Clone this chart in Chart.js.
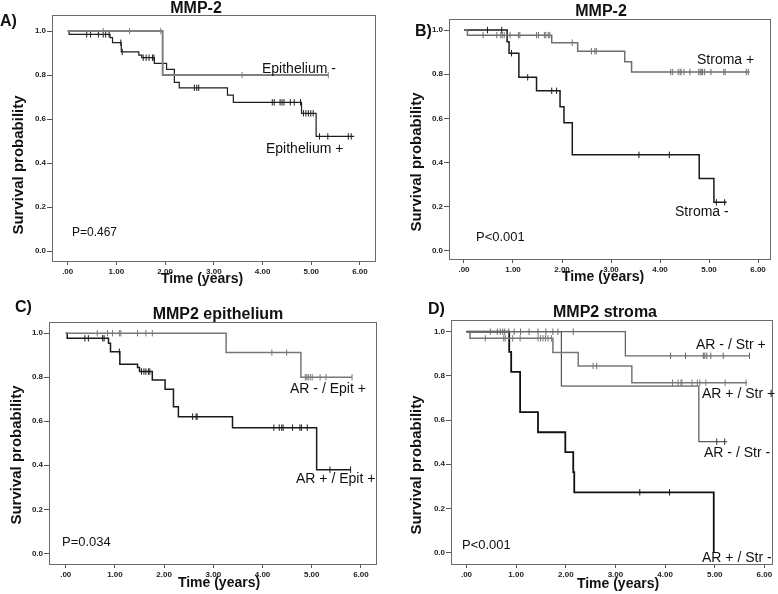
<!DOCTYPE html>
<html><head><meta charset="utf-8">
<script src="https://cdn.jsdelivr.net/npm/chart.js@4.4.0/dist/chart.umd.min.js"></script>
<style>
html,body{margin:0;padding:0;background:#fff;}
#wrap{position:relative;width:778px;height:594px;overflow:hidden;background:#fff;}
canvas{position:absolute;}
</style></head><body>
<div id="wrap">
<canvas id="cA" width="390" height="290" style="left:0px;top:0px;width:390px;height:290px"></canvas>
<canvas id="cB" width="388" height="290" style="left:390px;top:0px;width:388px;height:290px"></canvas>
<canvas id="cC" width="390" height="304" style="left:0px;top:290px;width:390px;height:304px"></canvas>
<canvas id="cD" width="388" height="304" style="left:390px;top:290px;width:388px;height:304px"></canvas>
</div>
<script>
// ---------- tick labels ----------
const xTickValues = [0, 1, 2, 3, 4, 5, 6];
const xTickLabels = ['.00', '1.00', '2.00', '3.00', '4.00', '5.00', '6.00'];
const yTickValues = [0, 0.2, 0.4, 0.6, 0.8, 1.0];
const yTickLabels = ['0.0', '0.2', '0.4', '0.6', '0.8', '1.0'];

// ---------- Panel A: MMP-2 epithelium ----------
const epiNegT = [0, 1.95, 5.35];
const epiNegS = [1, 0.80, 0.80];
const epiNegCens = [0.73, 1.27, 1.91, 3.58, 5.35];
const epiPosT = [0, 0.03, 0.87, 0.92, 1.10, 1.46, 1.52, 1.78, 2.03, 2.19, 2.29, 3.28, 3.40, 4.80, 5.10, 5.88];
const epiPosS = [1, 0.985, 0.970, 0.947, 0.905, 0.891, 0.879, 0.853, 0.826, 0.767, 0.742, 0.709, 0.676, 0.626, 0.521, 0.521];
const epiPosCens = [0.39, 0.47, 0.63, 0.73, 0.78, 0.85, 1.09, 1.12, 1.55, 1.61, 1.67, 1.74, 1.77, 2.60, 2.65, 2.69,
  4.20, 4.24, 4.36, 4.40, 4.44, 4.57, 4.65, 4.78, 4.84, 4.89, 4.94, 4.99, 5.04, 5.17, 5.34, 5.76, 5.82];

// ---------- Panel B: MMP-2 stroma ----------
const stromaPosT = [0, 0.07, 1.79, 2.32, 3.28, 3.42, 5.83];
const stromaPosS = [1, 0.977, 0.943, 0.904, 0.856, 0.810, 0.810];
const stromaPosCens = [0.39, 0.67, 0.75, 0.78, 0.82, 0.94, 1.11, 1.14, 1.48, 1.52, 1.64, 1.67, 1.72, 1.75, 2.21,
  2.60, 2.67, 2.70, 4.22, 4.26, 4.37, 4.41, 4.43, 4.49, 4.61, 4.79, 4.82, 4.85, 4.87, 4.91, 5.04, 5.30, 5.33, 5.76, 5.80];
const stromaNegT = [0, 0.88, 0.92, 1.12, 1.48, 1.96, 2.04, 2.21, 4.80, 5.10, 5.36];
const stromaNegS = [1, 0.947, 0.895, 0.786, 0.725, 0.653, 0.580, 0.435, 0.328, 0.220, 0.220];
const stromaNegCens = [0.48, 0.77, 0.97, 1.30, 1.79, 1.89, 3.57, 4.19, 5.15, 5.32];

// ---------- Panel C: MMP2 epithelium by AR ----------
const arNegEpiT = [0, 3.26, 4.78, 5.82];
const arNegEpiS = [1, 0.912, 0.800, 0.800];
const arNegEpiCens = [0.64, 0.85, 0.95, 1.09, 1.12, 1.46, 1.63, 1.76, 4.19, 4.49, 4.87, 4.90, 4.93, 4.97, 5.01, 5.17, 5.29, 5.82];
const arPosEpiT = [0, 0.03, 0.87, 0.91, 1.10, 1.46, 1.50, 1.76, 2.02, 2.19, 2.29, 3.39, 5.10, 5.79];
const arPosEpiS = [1, 0.977, 0.954, 0.916, 0.859, 0.844, 0.826, 0.788, 0.745, 0.666, 0.621, 0.571, 0.380, 0.380];
const arPosEpiCens = [0.39, 0.46, 0.75, 0.78, 1.09, 1.54, 1.59, 1.63, 1.68, 1.71, 2.58, 2.65, 2.67,
  4.23, 4.34, 4.39, 4.42, 4.61, 4.76, 4.79, 4.91, 5.37, 5.79];

// ---------- Panel D: MMP2 stroma by AR ----------
const arNegStrPosT = [0, 3.20, 5.71];
const arNegStrPosS = [1, 0.891, 0.891];
const arNegStrPosCens = [0.48, 0.62, 0.68, 0.73, 0.77, 0.85, 0.96, 1.09, 1.26, 1.44, 1.60, 1.74, 1.84, 2.15,
  4.11, 4.41, 4.77, 4.80, 4.84, 4.92, 5.17, 5.70];
const arPosStrPosT = [0, 0.07, 1.74, 2.25, 3.33, 5.65];
const arPosStrPosS = [1, 0.970, 0.906, 0.845, 0.769, 0.769];
const arPosStrPosCens = [0.38, 0.75, 0.78, 0.93, 1.08, 1.44, 1.49, 1.54, 1.59, 1.64, 1.71, 2.55, 2.62,
  4.15, 4.26, 4.32, 4.34, 4.54, 4.65, 4.70, 4.82, 5.21, 5.63];
const arNegStrNegT = [0, 1.91, 4.68, 5.25];
const arNegStrNegS = [1, 0.754, 0.502, 0.502];
const arNegStrNegCens = [5.04, 5.20];
const arPosStrNegT = [0, 0.86, 0.90, 1.08, 1.44, 1.99, 2.15, 2.17, 4.98];
const arPosStrNegS = [1, 0.909, 0.818, 0.636, 0.545, 0.455, 0.364, 0.273, 0];
const arPosStrNegCens = [3.49, 4.09];

// ---------- helpers ----------
function stepPoints(T, S) { return T.map((t, i) => ({ x: t, y: S[i] })); }
function survAt(T, S, t) { let s = S[0]; for (let i = 0; i < T.length; i++) { if (T[i] <= t) s = S[i]; } return s; }
function censorPoints(T, S, C) { return C.map(t => ({ x: t, y: survAt(T, S, t) })); }

const FONT = "'Liberation Sans', Arial, Helvetica, sans-serif";

const textPlugin = {
  id: 'panelText',
  beforeDatasetsDraw(chart) {
    const a = chart.chartArea, ctx = chart.ctx;
    ctx.save();
    ctx.strokeStyle = '#6a6a6a';
    ctx.lineWidth = 1;
    ctx.strokeRect(Math.round(a.left) + 0.5, Math.round(a.top) + 0.5, Math.round(a.right - a.left) - 1, Math.round(a.bottom - a.top) - 1);
    ctx.restore();
  },
  afterDraw(chart, args, opts) {
    const ctx = chart.ctx;
    (opts.items || []).forEach(it => {
      ctx.save();
      ctx.fillStyle = '#111';
      ctx.font = it.font + ' ' + FONT;
      ctx.textAlign = it.align || 'left';
      ctx.textBaseline = 'middle';
      ctx.translate(it.x, it.y);
      if (it.rot) ctx.rotate(it.rot * Math.PI / 180);
      ctx.fillText(it.text, 0, 0);
      ctx.restore();
    });
  }
};

function makePanel(id, p) {
  const datasets = [];
  p.curves.forEach(c => {
    datasets.push({
      type: 'line', data: stepPoints(c.T, c.S), stepped: true, borderColor: c.color,
      borderWidth: c.w, pointRadius: 0, fill: false, tension: 0
    });
    datasets.push({
      type: 'scatter', data: censorPoints(c.T, c.S, c.C), showLine: false, pointStyle: 'line',
      rotation: 90, pointRadius: 3.2, borderColor: c.color, borderWidth: 1, backgroundColor: c.color
    });
  });
  new Chart(document.getElementById(id), {
    type: 'line',
    data: { datasets },
    options: {
      responsive: false, animation: false, devicePixelRatio: 1,
      layout: { padding: { top: p.top, right: p.right, bottom: 0, left: 0 } },
      plugins: { legend: { display: false }, tooltip: { enabled: false }, panelText: { items: p.texts } },
      scales: {
        x: {
          type: 'linear', min: p.xr[0], max: p.xr[1],
          afterBuildTicks: s => { s.ticks = xTickValues.map(v => ({ value: v })); },
          afterFit: s => { s.height = p.xH; },
          ticks: { callback: (v) => xTickLabels[xTickValues.indexOf(v)] ?? '', font: { family: FONT, size: 8, weight: 'bold' }, color: '#222', padding: 2, maxRotation: 0, autoSkip: false },
          grid: { drawOnChartArea: false, drawTicks: true, tickLength: 3, tickColor: '#555' },
          border: { display: false }
        },
        y: {
          type: 'linear', min: p.yr[0], max: p.yr[1],
          afterBuildTicks: s => { s.ticks = yTickValues.map(v => ({ value: v })); },
          afterFit: s => { s.width = p.yW; },
          ticks: { callback: (v) => { const i = yTickValues.findIndex(t => Math.abs(t - v) < 1e-9); return i >= 0 ? yTickLabels[i] : ''; }, font: { family: FONT, size: 8, weight: 'bold' }, color: '#222', padding: 1, autoSkip: false },
          grid: { drawOnChartArea: false, drawTicks: true, tickLength: 5, tickColor: '#555' },
          border: { display: false }
        }
      }
    },
    plugins: [textPlugin]
  });
}

makePanel('cA', {
  top: 15, right: 14, yW: 52, xH: 28, xr: [-0.322, 6.329], yr: [-0.05, 1.073],
  curves: [
    { T: epiNegT, S: epiNegS, C: epiNegCens, color: '#808080', w: 2 },
    { T: epiPosT, S: epiPosS, C: epiPosCens, color: '#1e1e1e', w: 1.2 }
  ],
  texts: [
    { text: 'A)', x: 0, y: 22, font: 'bold 16px' },
    { text: 'MMP-2', x: 196, y: 9, font: 'bold 16px', align: 'center' },
    { text: 'Survival probability', x: 19, y: 165, font: 'bold 15px', align: 'center', rot: -90 },
    { text: 'Time (years)', x: 202, y: 279, font: 'bold 14px', align: 'center' },
    { text: 'Epithelium -', x: 262, y: 69, font: '14px' },
    { text: 'Epithelium +', x: 266, y: 149, font: '14px' },
    { text: 'P=0.467', x: 72, y: 233, font: '12px' }
  ]
});

makePanel('cB', {
  top: 19, right: 7, yW: 59, xH: 30, xr: [-0.306, 6.265], yr: [-0.041, 1.05],
  curves: [
    { T: stromaPosT, S: stromaPosS, C: stromaPosCens, color: '#6e6e6e', w: 1.5 },
    { T: stromaNegT, S: stromaNegS, C: stromaNegCens, color: '#1a1a1a', w: 1.5 }
  ],
  texts: [
    { text: 'B)', x: 25, y: 32, font: 'bold 16px' },
    { text: 'MMP-2', x: 211, y: 11.5, font: 'bold 16px', align: 'center' },
    { text: 'Survival probability', x: 26.5, y: 162, font: 'bold 15px', align: 'center', rot: -90 },
    { text: 'Time (years)', x: 213, y: 277.5, font: 'bold 14px', align: 'center' },
    { text: 'Stroma +', x: 307, y: 60, font: '14px' },
    { text: 'Stroma -', x: 285, y: 212.5, font: '14px' },
    { text: 'P<0.001', x: 86, y: 237.5, font: '13px' }
  ]
});

makePanel('cC', {
  top: 32, right: 13, yW: 49, xH: 29, xr: [-0.34, 6.327], yr: [-0.053, 1.051],
  curves: [
    { T: arNegEpiT, S: arNegEpiS, C: arNegEpiCens, color: '#777777', w: 1.5 },
    { T: arPosEpiT, S: arPosEpiS, C: arPosEpiCens, color: '#1a1a1a', w: 1.5 }
  ],
  texts: [
    { text: 'C)', x: 15, y: 18, font: 'bold 16px' },
    { text: 'MMP2 epithelium', x: 218, y: 24.5, font: 'bold 16px', align: 'center' },
    { text: 'Survival probability', x: 17, y: 165, font: 'bold 15px', align: 'center', rot: -90 },
    { text: 'Time (years)', x: 219, y: 293, font: 'bold 14px', align: 'center' },
    { text: 'AR - / Epit +', x: 290, y: 99, font: '14px' },
    { text: 'AR + / Epit +', x: 296, y: 189, font: '14px' },
    { text: 'P=0.034', x: 62, y: 252.5, font: '13px' }
  ]
});

makePanel('cD', {
  top: 30, right: 1, yW: 61, xH: 29, xr: [-0.312, 6.173], yr: [-0.056, 1.053],
  curves: [
    { T: arNegStrPosT, S: arNegStrPosS, C: arNegStrPosCens, color: '#666666', w: 1.3 },
    { T: arPosStrPosT, S: arPosStrPosS, C: arPosStrPosCens, color: '#777777', w: 1.5 },
    { T: arNegStrNegT, S: arNegStrNegS, C: arNegStrNegCens, color: '#333333', w: 1 },
    { T: arPosStrNegT, S: arPosStrNegS, C: arPosStrNegCens, color: '#111111', w: 1.8 }
  ],
  texts: [
    { text: 'D)', x: 38, y: 20, font: 'bold 16px' },
    { text: 'MMP2 stroma', x: 215, y: 22.5, font: 'bold 16px', align: 'center' },
    { text: 'Survival probability', x: 27, y: 175, font: 'bold 15px', align: 'center', rot: -90 },
    { text: 'Time (years)', x: 228, y: 294, font: 'bold 14px', align: 'center' },
    { text: 'AR - / Str +', x: 306, y: 55.5, font: '14px' },
    { text: 'AR + / Str +', x: 312, y: 104, font: '14px' },
    { text: 'AR - / Str -', x: 314, y: 163, font: '14px' },
    { text: 'AR + / Str -', x: 312, y: 268, font: '14px' },
    { text: 'P<0.001', x: 72, y: 255, font: '13px' }
  ]
});
</script>
</body></html>
